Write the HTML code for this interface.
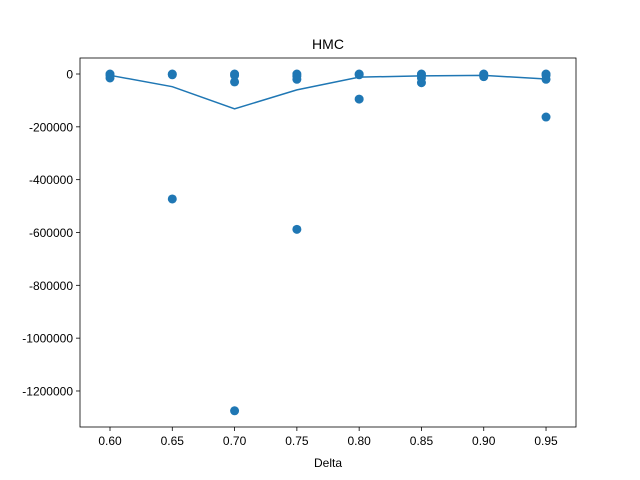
<!DOCTYPE html>
<html><head><meta charset="utf-8"><style>body{margin:0;background:#fff}svg{display:block;font-family:"Liberation Sans","DejaVu Sans",sans-serif}</style></head>
<body>
<svg id="chart" width="640" height="480"></svg>
<script>
const deltas=[0.60,0.65,0.70,0.75,0.80,0.85,0.90,0.95];
const meanValues=[-5000,-48000,-132000,-60000,-12000,-7000,-5000,-19000];
const samplePoints=[
 [0,-5000,-15000],
 [0,-3000,-473000],
 [0,-5000,-30000,-1275000],
 [0,-8000,-20000,-588000],
 [0,-3000,-95000],
 [0,-5000,-15000,-33000],
 [0,-3000,-10000],
 [0,-5000,-20000,-163000]
];
const xTicks=[0.60,0.65,0.70,0.75,0.80,0.85,0.90,0.95];
const yTicks=[0,-200000,-400000,-600000,-800000,-1000000,-1200000];
const NS='http://www.w3.org/2000/svg';
const svg=document.getElementById('chart');
const L=80,R=576,T=58,B=427;
function xs(v){return 110+(v-0.60)/0.05*62.29;}
function ys(v){return 74-v/200000*52.83;}
function mk(tag,attrs,parent){const e=document.createElementNS(NS,tag);for(const k in attrs)e.setAttribute(k,attrs[k]);(parent||svg).appendChild(e);return e;}
const title=mk('text',{x:328,y:49,'text-anchor':'middle','font-size':14});title.textContent='HMC';


const xl=mk('text',{x:328,y:467,'text-anchor':'middle','font-size':12});xl.textContent='Delta';


xTicks.forEach(t=>{const x=xs(t);mk('line',{x1:x,x2:x,y1:B,y2:B+4,stroke:'#000','stroke-width':0.8});
 const tx=mk('text',{x:x,y:B+18,'text-anchor':'middle','font-size':12});tx.textContent=t.toFixed(2);
 
 });
yTicks.forEach(t=>{const y=ys(t);mk('line',{x1:L-4,x2:L,y1:y,y2:y,stroke:'#000','stroke-width':0.8});
 const tx=mk('text',{x:L-7,y:y+4.5,'text-anchor':'end','font-size':12});tx.textContent=String(t);
 
 });
const line=mk('polyline',{points:deltas.map((d,i)=>xs(d)+','+ys(meanValues[i])).join(' '),fill:'none',stroke:'#1f77b4','stroke-width':1.5});


samplePoints.forEach((arr,i)=>arr.forEach(v=>{const c=mk('circle',{cx:xs(deltas[i]),cy:ys(v),r:4.5,fill:'#1f77b4'});
 
 }));
const frame=mk('rect',{x:L,y:T,width:R-L,height:B-T,fill:'none',stroke:'#000','stroke-width':0.8});


</script>
</body></html>
